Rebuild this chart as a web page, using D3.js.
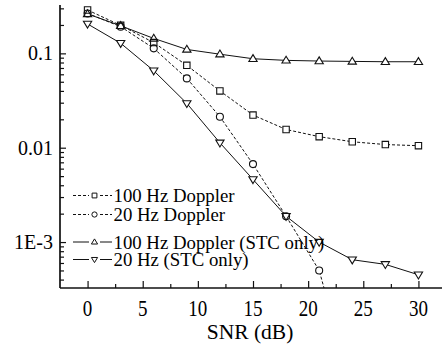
<!DOCTYPE html>
<html><head><meta charset="utf-8">
<script src="https://cdn.jsdelivr.net/npm/d3@7"></script>
<style>
html,body{margin:0;padding:0;background:#fff;}
svg{display:block;}
svg text{font-family:"Liberation Serif",serif !important;}
</style></head>
<body>
<svg id="chart" width="442" height="344"></svg>
<script>
const snr = [0, 3, 6, 9, 12, 15, 18, 21, 24, 27, 30];
const dop100 = [0.288, 0.198, 0.130, 0.0746, 0.0400, 0.0222, 0.0156, 0.0131, 0.01156, 0.0108, 0.0105];
const snr20 = [0, 3, 6, 9, 12, 15, 18, 21, 24];
const dop20 = [0.265, 0.192, 0.113, 0.0543, 0.0213, 0.0067, 0.00188, 0.0005, 0.000027];
const stc100 = [0.262, 0.196, 0.144, 0.110, 0.098, 0.0877, 0.0843, 0.0829, 0.0822, 0.0815, 0.0815];
const stc20 = [0.205, 0.128, 0.0655, 0.0295, 0.01127, 0.00461, 0.00188, 0.0010, 0.00065, 0.00058, 0.00045];
const xTicks = [0, 5, 10, 15, 20, 25, 30];
const xMinor = [2.5, 7.5, 12.5, 17.5, 22.5, 27.5];
const yTicks = [0.1, 0.01, 0.001];
const yTickLabels = ["0.1", "0.01", "1E-3"];
const legendLabels = ["100 Hz Doppler", "20 Hz Doppler", "100 Hz Doppler (STC only)", "20 Hz (STC only)"];

const FONT = "Liberation Serif";
const svg = d3.select("#chart");
const L = 60, R = 446, T = 6, B = 288;
const x = d3.scaleLinear().domain([-2.5, 32.5]).range([L, R]);
const y = d3.scaleLog().domain([Math.pow(10, -3.487), Math.pow(10, -0.498)]).range([B, T]);

svg.append("defs").append("clipPath").attr("id", "clip")
  .append("rect").attr("x", L).attr("y", T).attr("width", R - L).attr("height", B - T);

const yMinor = [];
for (let e = -4; e <= 0; e++) for (let m = 2; m <= 9; m++) {
  const v = m * Math.pow(10, e);
  if (v >= y.domain()[0] && v <= y.domain()[1]) yMinor.push(v);
}

const series = [
  {xs: snr, ys: dop100, dash: "3,2", marker: "square"},
  {xs: snr20, ys: dop20, dash: "3,2", marker: "circle"},
  {xs: snr, ys: stc100, dash: null, marker: "up"},
  {xs: snr, ys: stc20, dash: null, marker: "down"}
];

function markerPath(type, s) {
  if (type === "square") return `M${-s},${-s}h${2*s}v${2*s}h${-2*s}Z`;
  if (type === "circle") return d3.symbol(d3.symbolCircle, Math.PI * s * s)();
  if (type === "up") return `M0,${-s*1.15}L${s*1.15},${s*0.75}L${-s*1.15},${s*0.75}Z`;
  return `M0,${s*1.15}L${s*1.15},${-s*0.75}L${-s*1.15},${-s*0.75}Z`;
}
const msize = {square: 3.2, circle: 3.5, up: 3.6, down: 3.6};

const plot = svg.append("g").attr("clip-path", "url(#clip)");
const line = d3.line().x(d => x(d[0])).y(d => y(d[1]));
series.forEach(s => {
  const pts = s.xs.map((v, i) => [v, s.ys[i]]);
  plot.append("path").attr("d", line(pts)).attr("fill", "none")
    .attr("stroke", "#111").attr("stroke-width", 1)
    .attr("stroke-dasharray", s.dash);
});
["fill", "stroke"].forEach(pass => {
  series.forEach(s => {
    s.xs.forEach((v, i) => {
      const py = y(s.ys[i]);
      if (py > B) return;
      plot.append("path").attr("d", markerPath(s.marker, msize[s.marker]))
        .attr("transform", `translate(${x(v)},${py})`)
        .attr("fill", pass === "fill" ? "#fff" : "none")
        .attr("stroke", pass === "fill" ? "none" : "#111")
        .attr("stroke-width", 1.1);
    });
  });
});

const xAxis = svg.append("g").attr("transform", `translate(0,${B})`)
  .call(d3.axisBottom(x).tickValues(xTicks).tickSize(-7).tickFormat(""));
svg.append("g").attr("transform", `translate(0,${B})`)
  .call(d3.axisBottom(x).tickValues(xMinor).tickSize(-4).tickFormat(""))
  .select(".domain").remove();
xAxis.select(".domain").attr("d", `M${L},0H${R}`);
const yAxis = svg.append("g").attr("transform", `translate(${L},0)`)
  .call(d3.axisLeft(y).tickValues(yTicks).tickSize(-6).tickFormat(""));
yAxis.select(".domain").attr("d", `M0,${T - 1}V${B}`);
svg.append("g").attr("transform", `translate(${L},0)`)
  .call(d3.axisLeft(y).tickValues(yMinor).tickSize(-4).tickFormat(""))
  .select(".domain").remove();
svg.selectAll(".domain").attr("stroke", "#111").attr("stroke-width", 1.7);
svg.selectAll(".tick line").attr("stroke", "#111").attr("stroke-width", 1.2);
svg.selectAll(".tick text").remove();

function label(sel) {
  return sel.style("font-family", "'Liberation Serif', serif").attr("fill", "#000");
}
xTicks.forEach(v => {
  label(svg.append("text").attr("transform", `translate(${x(v)},316) scale(1,1.25)`)
    .attr("text-anchor", "middle").attr("font-size", 19)).text(v);
});
yTicks.forEach((v, i) => {
  label(svg.append("text").attr("x", 53).attr("y", y(v) + 7)
    .attr("text-anchor", "end").attr("font-size", 20)).text(yTickLabels[i]);
});
label(svg.append("text").attr("x", 250).attr("y", 339)
  .attr("text-anchor", "middle").attr("font-size", 21.5)).text("SNR (dB)");

const legY = [195.5, 214.5, 242, 259.5];
const lg = svg.append("g");
series.forEach((s, i) => {
  const cy = legY[i];
  lg.append("path").attr("d", `M73,${cy}H89M100,${cy}H112`)
    .attr("stroke", "#111").attr("stroke-width", 1).attr("stroke-dasharray", s.dash);
  lg.append("path").attr("d", markerPath(s.marker, msize[s.marker] * 0.75))
    .attr("transform", `translate(94.5,${cy})`)
    .attr("fill", "#fff").attr("stroke", "#111").attr("stroke-width", 1);
  label(lg.append("text").attr("x", 113.5).attr("y", cy + 6.5)
    .attr("font-size", 18.8)).text(legendLabels[i]);
});
</script>
</body></html>
